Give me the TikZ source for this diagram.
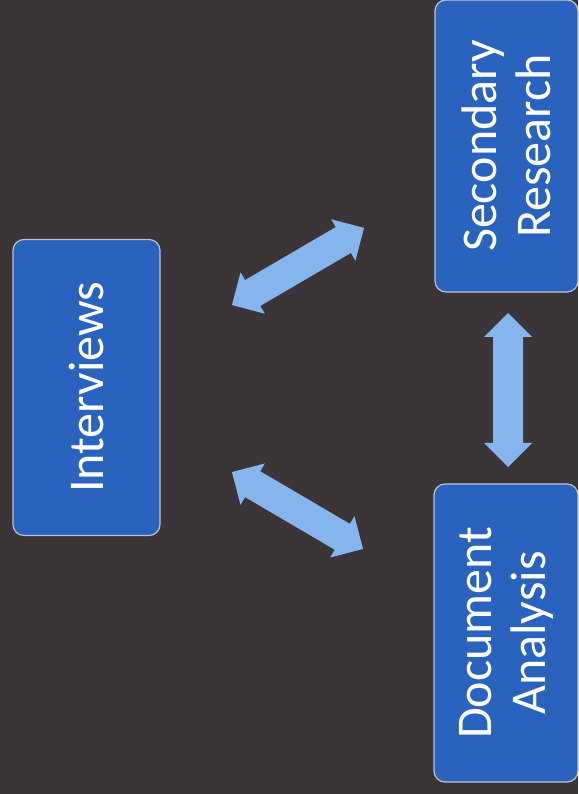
\documentclass[tikz,border=0pt]{standalone}
\usepackage{fontspec}
\setmainfont{Carlito}
\definecolor{bgc}{RGB}{60,53,55}
\definecolor{boxfill}{RGB}{42,99,190}
\definecolor{boxline}{RGB}{185,195,212}
\definecolor{arrowc}{RGB}{134,180,236}
\tikzset{
  stagebox/.style={draw=boxline, line width=1.2pt, fill=boxfill, rounded corners=11pt,
    text=white, font=\fontsize{50}{54}\selectfont, align=center, rotate=90,
    inner sep=0pt, anchor=center},
  blockarrowfill/.style={fill=arrowc}
}
\newcommand\blockarrow[4]{% cx, cy, angle, length
  \begin{scope}[shift={(#1,#2)}, rotate=#3]
    \fill[blockarrowfill] ({-#4/2},0) -- ({-#4/2+24},24) -- ({-#4/2+24},15) -- ({#4/2-24},15)
      -- ({#4/2-24},24) -- ({#4/2},0) -- ({#4/2-24},-24) -- ({#4/2-24},-15)
      -- ({-#4/2+24},-15) -- ({-#4/2+24},-24) -- cycle;
  \end{scope}}
\begin{document}
\begin{tikzpicture}[x=1pt,y=1pt]
\fill[bgc] (0,0) rectangle (578,794);
\useasboundingbox (0,0) rectangle (578,794);
\node[stagebox, minimum width=296pt, minimum height=147pt] (interviews) at (86.5,406.5) {Interviews};
\node[stagebox, minimum width=292pt, minimum height=143pt] (secondary) at (506.5,648) {Secondary\\Research};
\node[stagebox, minimum width=298pt, minimum height=144pt] (document) at (506,161) {Document\\Analysis};
\coordinate (a1) at (298,527.5);
\coordinate (a2) at (297.5,283.5);
\coordinate (a3) at (508,404);
\blockarrow{298}{527.5}{30.3}{153}
\blockarrow{297.5}{283.5}{-30.4}{152}
\blockarrow{508}{404}{90}{154}
\end{tikzpicture}
\end{document}
